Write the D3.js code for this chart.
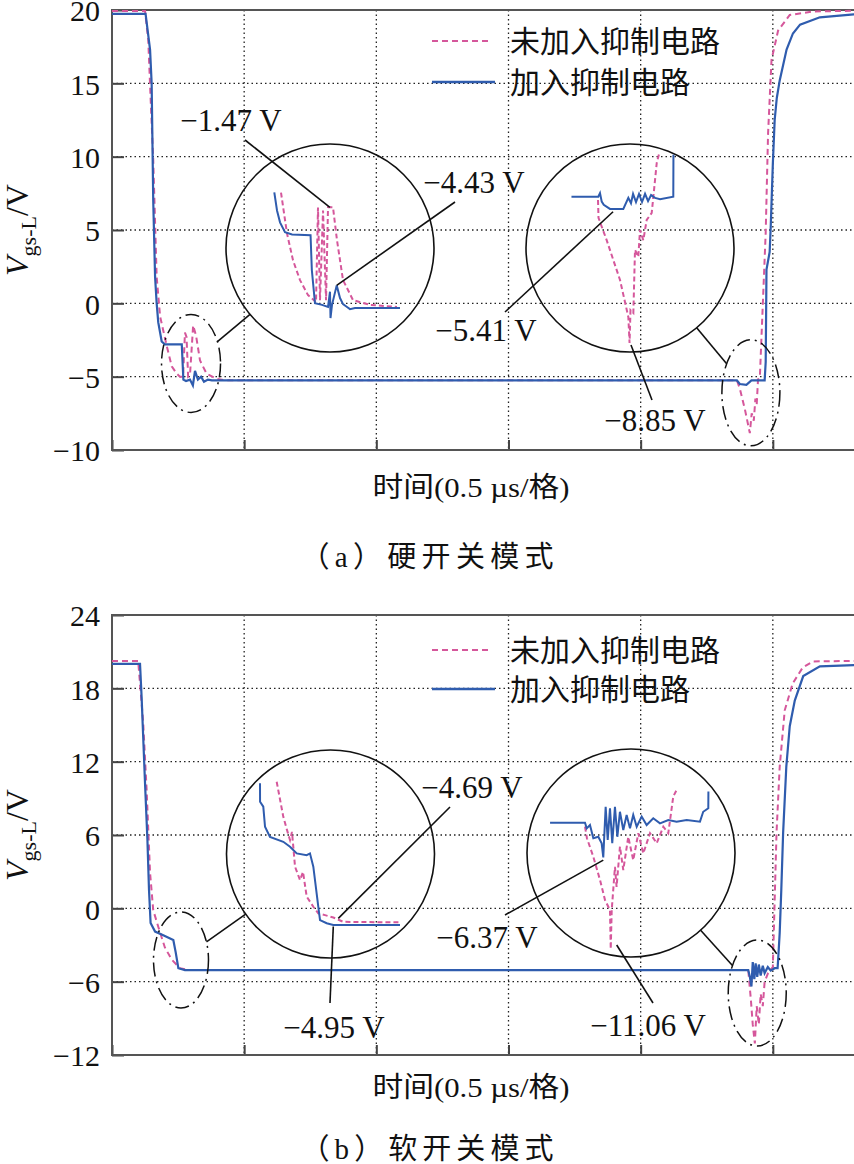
<!DOCTYPE html>
<html>
<head>
<meta charset="utf8">
<script src="https://d3js.org/d3.v7.min.js"></script>
<style>
  body { margin: 0; background: #fff; }
  text { font-family: 'Liberation Serif', 'Noto Sans CJK SC', serif; fill: #111; }
  .cjk { font-family: 'Noto Sans CJK SC', sans-serif; }
</style>
</head>
<body>
<svg id="chart" width="854" height="1164"></svg>
<script>
// ---- data: time in µs (0.5 µs per division), voltage in V ----
var seriesNames = ['未加入抑制电路', '加入抑制电路'];
var yTicksA = [-10, -5, 0, 5, 10, 15, 20];
var yTicksB = [-12, -6, 0, 6, 12, 18, 24];
var xTicks = [0, 0.5, 1, 1.5, 2, 2.5, 3];

// (a) hard switching
var hardWithout = [[0,19.93],[0.125,19.93],[0.137,18.0],[0.146,14.0],[0.156,9.8],[0.169,1.8],[0.182,-0.9],
  [0.207,-2.9],[0.226,-4.3],[0.245,-4.8],[0.257,-5.0],[0.269,-5.0],[0.276,-2.0],[0.282,-2.3],[0.288,-5.0],
  [0.295,-4.9],[0.307,-1.5],[0.318,-2.2],[0.333,-3.9],[0.358,-4.8],[0.396,-5.15],[0.427,-5.25],[2.364,-5.25],
  [2.375,-5.8],[2.394,-7.2],[2.413,-8.85],[2.420,-7.5],[2.428,-8.0],[2.434,-6.5],[2.439,-6.9],[2.444,-5.2],
  [2.451,-5.0],[2.473,4.8],[2.482,11.6],[2.495,16.6],[2.520,18.6],[2.564,19.66],[2.651,19.9],[2.806,19.95],[3.0,19.95]];
var hardWith = [[0,19.73],[0.127,19.73],[0.144,17.3],[0.150,15.0],[0.156,7.0],[0.163,1.8],[0.169,0.0],
  [0.175,-1.3],[0.188,-2.6],[0.200,-2.8],[0.264,-2.8],[0.270,-5.2],[0.280,-5.3],[0.295,-5.2],[0.306,-5.6],
  [0.314,-4.6],[0.325,-5.2],[0.337,-5.0],[0.348,-5.35],[0.363,-5.2],[0.378,-5.25],[2.364,-5.25],[2.375,-5.5],
  [2.400,-5.55],[2.419,-5.25],[2.469,-5.25],[2.473,-4.0],[2.476,2.3],[2.488,3.5],[2.492,5.2],[2.500,9.5],
  [2.507,12.5],[2.515,14.0],[2.526,15.2],[2.552,17.3],[2.576,18.4],[2.603,19.0],[2.678,19.5],[2.806,19.7],[3.0,19.72]];

// (a) magnified details
var hardZoomOffWithout = [[0.1923,-0.91],[0.2062,-2.46],[0.2202,-3.48],[0.2365,-4.23],[0.2551,-4.80],[0.2690,-4.99],
  [0.2737,-5.06],[0.2783,-1.48],[0.283,-4.99],[0.290,-1.59],[0.297,-4.99],[0.3016,-1.47],[0.3132,-1.47],
  [0.3225,-2.72],[0.3365,-4.23],[0.3598,-4.99],[0.3993,-5.17],[0.462,-5.25]];
var hardZoomOffWith = [[0.1767,-0.90],[0.183,-1.59],[0.190,-2.04],[0.2016,-2.41],[0.218,-2.50],[0.261,-2.53],
  [0.264,-3.85],[0.2713,-5.11],[0.2876,-5.17],[0.3016,-5.25],[0.3062,-4.67],[0.3074,-5.67],[0.3109,-5.17],
  [0.3218,-4.43],[0.3295,-4.91],[0.3365,-5.14],[0.345,-5.24],[0.3527,-5.33],[0.3644,-5.29],[0.469,-5.29]];
var hardZoomOnWithout = [[2.364,-5.33],[2.3647,-5.77],[2.3761,-6.32],[2.3947,-7.30],[2.4063,-8.21],[2.408,-8.85],
  [2.4093,-8.04],[2.4133,-8.11],[2.4156,-6.56],[2.4202,-6.73],[2.4226,-6.07],[2.4272,-6.32],[2.4319,-5.82],
  [2.4389,-5.65],[2.4459,-4.42],[2.4495,-4.17]];
var hardZoomOnWith = [[2.327,-5.25],[2.3644,-5.25],[2.3668,-5.16],[2.3692,-5.37],[2.372,-5.45],[2.3807,-5.55],
  [2.3993,-5.55],[2.4063,-5.28],[2.41,-5.41],[2.4129,-5.18],[2.417,-5.38],[2.4212,-5.18],[2.4254,-5.38],
  [2.4296,-5.18],[2.4338,-5.36],[2.438,-5.21],[2.4435,-5.28],[2.4505,-5.31],[2.469,-5.25],[2.4692,-4.22]];

// (b) soft switching
var softWithout = [[0,20.24],[0.099,20.24],[0.118,15.2],[0.131,9.7],[0.144,2.9],[0.156,-0.15],[0.175,-1.5],
  [0.200,-3.2],[0.226,-4.2],[0.257,-4.9],[0.295,-5.05],[2.407,-5.05],[2.417,-7.5],[2.424,-9.5],[2.432,-11.06],
  [2.439,-8.0],[2.447,-9.5],[2.454,-7.0],[2.462,-8.0],[2.469,-6.0],[2.482,-5.3],[2.500,-4.8],[2.507,0.7],
  [2.514,6.2],[2.526,11.6],[2.545,16.2],[2.575,18.4],[2.613,19.7],[2.651,20.2],[2.806,20.24],[3.0,20.24]];
var softWith = [[0,20.0],[0.106,20.0],[0.112,17.3],[0.125,10.2],[0.134,5.6],[0.140,1.5],[0.146,-1.2],
  [0.163,-1.9],[0.194,-2.2],[0.232,-2.6],[0.241,-3.6],[0.251,-4.9],[0.276,-5.05],[2.407,-5.05],[2.413,-5.6],
  [2.419,-6.4],[2.424,-4.4],[2.430,-5.8],[2.435,-4.5],[2.441,-5.6],[2.447,-4.6],[2.454,-5.5],[2.462,-4.7],
  [2.469,-5.3],[2.481,-4.8],[2.492,-5.1],[2.507,-4.9],[2.518,-4.9],[2.522,-3.5],[2.526,-2.0],[2.532,1.5],
  [2.539,6.2],[2.551,11.6],[2.564,14.9],[2.583,17.0],[2.615,19.0],[2.678,19.8],[2.806,19.9],[3.0,19.95]];

// (b) magnified details
var softZoomOffWithout = [[0.1779,-0.01],[0.1886,-1.22],[0.1945,-1.67],[0.1994,-2.02],[0.2026,-1.74],[0.2075,-2.94],
  [0.2155,-3.40],[0.2204,-3.12],[0.2263,-3.97],[0.237,-4.32],[0.245,-4.55],[0.2558,-4.61],[0.2692,-4.69],
  [0.2853,-4.84],[0.3768,-4.86]];
var softZoomOffWith = [[0.151,-0.06],[0.1511,-0.70],[0.1563,-0.87],[0.1591,-1.56],[0.1671,-1.91],[0.1886,-2.08],
  [0.1994,-2.25],[0.2102,-2.48],[0.2263,-2.54],[0.2316,-2.48],[0.237,-2.94],[0.245,-4.32],[0.2478,-4.78],
  [0.2586,-4.89],[0.2692,-4.95],[0.3768,-4.95]];
var softZoomOnWithout = [[2.405,-5.24],[2.4068,-5.79],[2.4127,-6.67],[2.4189,-7.78],[2.4235,-8.73],[2.4281,-9.21],
  [2.4288,-11.06],[2.4297,-9.21],[2.4327,-7.15],[2.4342,-8.10],[2.4373,-6.19],[2.4404,-7.30],[2.4450,-5.72],
  [2.4496,-6.83],[2.4543,-5.55],[2.4589,-6.51],[2.4651,-5.55],[2.4713,-6.03],[2.4774,-5.24],[2.4820,-5.55],
  [2.4866,-3.81],[2.4897,-3.49]];
var softZoomOnWith = [[2.3727,-5.05],[2.405,-5.05],[2.4066,-5.32],[2.4096,-5.16],[2.4127,-5.79],[2.4173,-5.72],
  [2.4204,-6.03],[2.4219,-6.70],[2.4241,-4.29],[2.426,-5.87],[2.4281,-4.36],[2.4302,-6.03],[2.4327,-4.29],
  [2.4349,-5.72],[2.4373,-4.53],[2.4404,-5.40],[2.4435,-4.68],[2.4466,-5.32],[2.4496,-4.68],[2.4528,-5.24],
  [2.4574,-4.76],[2.4620,-5.16],[2.4681,-4.84],[2.4743,-5.08],[2.4820,-4.92],[2.4897,-5.00],[2.4990,-4.92],
  [2.5113,-5.00],[2.5143,-4.53],[2.5190,-4.36],[2.5191,-3.57]];

// ---- layout ----
var chart = d3.select('#chart');
var plotLeft = 112, plotRight = 905;
var pink = '#d5579b', blue = '#2f5cae';
var x = d3.scaleLinear().domain([0, 3]).range([plotLeft, plotRight]);
var line = function (sx, sy) {
  return d3.line().x(function (d) { return sx(d[0]); }).y(function (d) { return sy(d[1]); });
};
var fmt = function (d) { return d < 0 ? '\u2212' + Math.abs(d) : String(d); };

var panels = [
  {
    top: 10, bottom: 450, yDomain: [-10, 20], yTicks: yTicksA, legendY: [41, 82], titleY: 230,
    axisTitleY: 487, caption: '（a）硬开关模式', captionY: 557,
    without: hardWithout, withS: hardWith,
    insets: [
      { cx: 330, cy: 248, r: 104, tDom: [0.176, 0.469], xr: [-56, 70], vDom: [-5.25, -0.9], yr: [59, -55.7],
        without: hardZoomOffWithout, withS: hardZoomOffWith, ell: [0.299, -4.1, 29.5, 49],
        notes: [{ text: '\u22121.47 V', lx: 231, ly: 120, fx: 245, fy: 140, to: [0.306, -1.47] },
                { text: '\u22124.43 V', lx: 474, ly: 182, fx: 455, fy: 202, to: [0.3218, -4.43] }] },
      { cx: 630, cy: 248, r: 104, tDom: [2.364, 2.469], xr: [-32, 43.3], vDom: [-8.85, -5.25], yr: [95, -51.3],
        without: hardZoomOnWithout, withS: hardZoomOnWith, ell: [2.417, -6.1, 29, 53],
        notes: [{ text: '\u22125.41 V', lx: 486, ly: 330, fx: 505, fy: 312, to: [2.385, -5.62] },
                { text: '\u22128.85 V', lx: 655, ly: 420, fx: 652, fy: 400, to: [2.410, -8.9] }] }
    ]
  },
  {
    top: 615, bottom: 1055, yDomain: [-12, 24], yTicks: yTicksB, legendY: [650, 689], titleY: 835,
    axisTitleY: 1087, caption: '（b）软开关模式', captionY: 1149,
    without: softWithout, withS: softWith,
    insets: [
      { cx: 330.5, cy: 854, r: 104, tDom: [0.151, 0.3768], xr: [-70.5, 69.5], vDom: [-4.95, -0.06], yr: [71, -70.8],
        without: softZoomOffWithout, withS: softZoomOffWith, ell: [0.261, -4.23, 27.5, 48],
        notes: [{ text: '\u22124.69 V', lx: 472, ly: 787, fx: 450, fy: 807, to: [0.2773, -4.72] },
                { text: '\u22124.95 V', lx: 334, ly: 1027, fx: 330, fy: 1003, to: [0.2692, -5.0] }] },
      { cx: 631, cy: 853, r: 104, tDom: [2.405, 2.519], xr: [-46, 77.3], vDom: [-11.06, -5.05], yr: [96, -30.3],
        without: softZoomOnWithout, withS: softZoomOnWith, ell: [2.441, -6.93, 29, 53],
        notes: [{ text: '\u22126.37 V', lx: 487, ly: 937, fx: 505, fy: 915, to: [2.4219, -6.83] },
                { text: '\u221211.06 V', lx: 648, ly: 1025, fx: 653, fy: 1003, to: [2.4343, -10.87] }] }
    ]
  }
];

panels.forEach(function (p) {
  var y = d3.scaleLinear().domain(p.yDomain).range([p.bottom, p.top]);
  var g = chart.append('g');

  // dotted grid
  g.selectAll('.hgrid').data(p.yTicks.slice(1, -1)).join('line')
    .attr('x1', plotLeft).attr('x2', plotRight)
    .attr('y1', function (d) { return y(d); }).attr('y2', function (d) { return y(d); })
    .attr('stroke', '#222').attr('stroke-width', 1.3).attr('stroke-dasharray', '1.5,3');
  g.selectAll('.vgrid').data(xTicks.slice(1, -1)).join('line')
    .attr('y1', p.top).attr('y2', p.bottom)
    .attr('x1', function (d) { return x(d); }).attr('x2', function (d) { return x(d); })
    .attr('stroke', '#222').attr('stroke-width', 1.3).attr('stroke-dasharray', '1.5,3');

  // axes with inward ticks
  var ya = g.append('g').attr('transform', 'translate(' + plotLeft + ',0)')
    .call(d3.axisLeft(y).tickValues(p.yTicks).tickSize(-12).tickPadding(12).tickFormat(fmt));
  ya.select('.domain').remove();
  ya.selectAll('line').attr('stroke', '#444').attr('stroke-width', 2);
  ya.selectAll('text').attr('font-size', 30).attr('fill', '#111').attr('dy', '0.36em')
    .attr('font-family', 'Liberation Serif, serif');
  var xa = g.append('g').attr('transform', 'translate(0,' + p.bottom + ')')
    .call(d3.axisBottom(x).tickValues(xTicks).tickSize(-10).tickFormat(''));
  xa.select('.domain').remove();
  xa.selectAll('line').attr('stroke', '#444').attr('stroke-width', 2);

  g.append('rect').attr('x', plotLeft).attr('y', p.top)
    .attr('width', plotRight - plotLeft).attr('height', p.bottom - p.top)
    .attr('fill', 'none').attr('stroke', '#555').attr('stroke-width', 2);

  // main traces
  g.append('path').datum(p.without).attr('d', line(x, y))
    .attr('fill', 'none').attr('stroke', pink).attr('stroke-width', 2).attr('stroke-dasharray', '6,4');
  g.append('path').datum(p.withS).attr('d', line(x, y))
    .attr('fill', 'none').attr('stroke', blue).attr('stroke-width', 2.2);

  // magnified insets
  p.insets.forEach(function (s) {
    var ix = d3.scaleLinear().domain(s.tDom).range([s.cx + s.xr[0], s.cx + s.xr[1]]);
    var iy = d3.scaleLinear().domain(s.vDom).range([s.cy + s.yr[0], s.cy + s.yr[1]]);
    g.append('circle').attr('cx', s.cx).attr('cy', s.cy).attr('r', s.r)
      .attr('fill', 'none').attr('stroke', '#111').attr('stroke-width', 1.6);
    var ex = x(s.ell[0]), ey = y(s.ell[1]), rx = s.ell[2], ry = s.ell[3];
    g.append('ellipse').attr('cx', ex).attr('cy', ey).attr('rx', rx).attr('ry', ry)
      .attr('fill', 'none').attr('stroke', '#111').attr('stroke-width', 1.5)
      .attr('stroke-dasharray', '14,5,2,5');
    // connector from ellipse edge to circle edge
    var dx = s.cx - ex, dy = s.cy - ey, len = Math.hypot(dx, dy);
    var ux = dx / len, uy = dy / len;
    var te = 1 / Math.sqrt((ux / rx) * (ux / rx) + (uy / ry) * (uy / ry));
    g.append('line')
      .attr('x1', ex + ux * te).attr('y1', ey + uy * te)
      .attr('x2', s.cx - ux * s.r).attr('y2', s.cy - uy * s.r)
      .attr('stroke', '#111').attr('stroke-width', 1.6);

    g.append('path').datum(s.without).attr('d', line(ix, iy))
      .attr('fill', 'none').attr('stroke', pink).attr('stroke-width', 2).attr('stroke-dasharray', '5,3');
    g.append('path').datum(s.withS).attr('d', line(ix, iy))
      .attr('fill', 'none').attr('stroke', blue).attr('stroke-width', 2);

    s.notes.forEach(function (n) {
      g.append('line').attr('x1', n.fx).attr('y1', n.fy)
        .attr('x2', ix(n.to[0])).attr('y2', iy(n.to[1]))
        .attr('stroke', '#111').attr('stroke-width', 1.6);
      g.append('text').attr('x', n.lx).attr('y', n.ly).attr('dy', '0.35em')
        .attr('text-anchor', 'middle').attr('font-size', 31).text(n.text);
    });
  });

  // legend
  var lg = g.append('g');
  lg.append('line').attr('x1', 432).attr('x2', 492).attr('y1', p.legendY[0]).attr('y2', p.legendY[0])
    .attr('stroke', pink).attr('stroke-width', 2).attr('stroke-dasharray', '6,4');
  lg.append('line').attr('x1', 432).attr('x2', 495).attr('y1', p.legendY[1]).attr('y2', p.legendY[1])
    .attr('stroke', blue).attr('stroke-width', 2.6);
  seriesNames.forEach(function (nm, i) {
    lg.append('text').attr('class', 'cjk').attr('x', 510).attr('y', p.legendY[i]).attr('dy', '0.36em')
      .attr('font-size', 30).text(nm);
  });

  // y axis title
  var yt = g.append('text').attr('transform', 'translate(28,' + p.titleY + ') rotate(-90)')
    .attr('text-anchor', 'middle').attr('font-size', 32);
  yt.append('tspan').attr('font-style', 'italic').text('V');
  yt.append('tspan').attr('font-size', 22).attr('dy', 8).text('gs-L');
  yt.append('tspan').attr('dy', -8).text('/V');

  // x axis title and caption
  g.append('text').attr('x', 471).attr('y', p.axisTitleY).attr('dy', '0.35em')
    .attr('text-anchor', 'middle').attr('font-size', 28)
    .attr('textLength', 197).attr('lengthAdjust', 'spacingAndGlyphs')
    .text('时间(0.5 µs/格)');
  g.append('text').attr('x', 427).attr('y', p.captionY).attr('dy', '0.35em')
    .attr('text-anchor', 'middle').attr('font-size', 29)
    .attr('textLength', 253).attr('lengthAdjust', 'spacing')
    .text(p.caption);
});
</script>
</body>
</html>
